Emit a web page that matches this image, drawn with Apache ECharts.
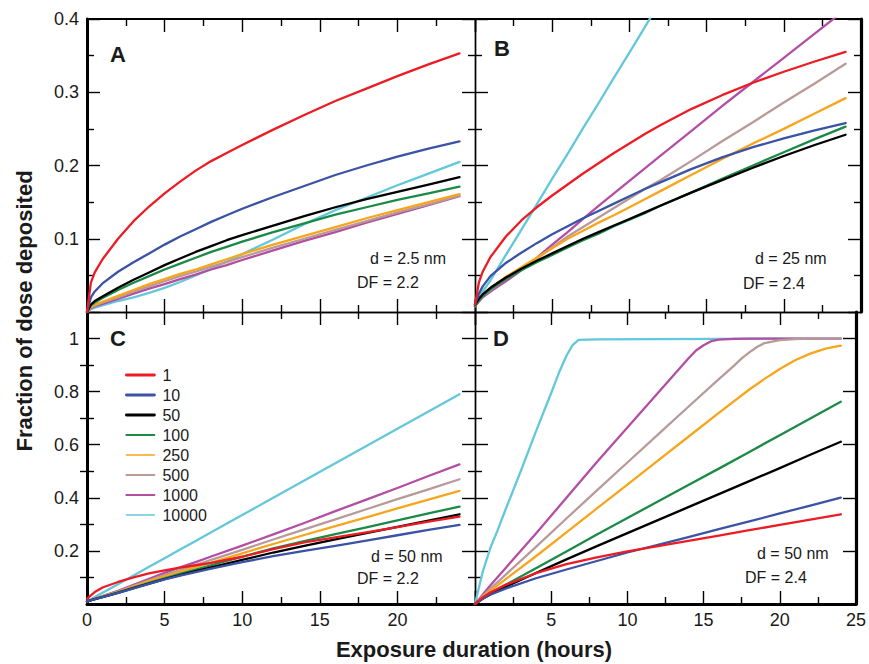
<!DOCTYPE html>
<html>
<head>
<meta charset="utf-8">
<script src="https://cdn.jsdelivr.net/npm/echarts@6/dist/echarts.min.js"></script>
<style>html,body{margin:0;padding:0;background:#fff}#c{width:869px;height:664px}</style>
</head>
<body>
<div id="c"></div>
<script>
// ---------- data ----------
const seriesNames = ['1', '10', '50', '100', '250', '500', '1000', '10000'];
const xTickValues = [0, 5, 10, 15, 20, 25];
const yTicksTop = [0.1, 0.2, 0.3, 0.4];
const yTicksBottom = [0.2, 0.4, 0.6, 0.8, 1];
const yMinorBottom = [0.1, 0.3, 0.5, 0.7, 0.9];

// Panel A  (d = 2.5 nm, DF = 2.2)
const hoursA = [0,0.25,0.5,1,2,3,4,5,6,7,8,9,10,12,14,16,18,20,22,24];
const A_1     = [0,0.04,0.054,0.072,0.1,0.124,0.144,0.162,0.178,0.193,0.206,0.217,0.228,0.249,0.269,0.288,0.305,0.322,0.338,0.353];
const A_10    = [0,0.02,0.028,0.039,0.055,0.068,0.08,0.092,0.103,0.113,0.123,0.132,0.141,0.157,0.172,0.187,0.2,0.212,0.223,0.233];
const A_50    = [0,0.01,0.015,0.021,0.033,0.044,0.054,0.064,0.073,0.082,0.09,0.098,0.105,0.118,0.131,0.143,0.154,0.164,0.174,0.184];
const A_100   = [0,0.009,0.013,0.019,0.03,0.04,0.049,0.058,0.066,0.074,0.082,0.089,0.096,0.109,0.121,0.133,0.143,0.153,0.162,0.171];
const A_250   = [0,0.007,0.01,0.014,0.022,0.03,0.038,0.045,0.052,0.058,0.065,0.072,0.079,0.092,0.104,0.116,0.128,0.139,0.15,0.161];
const A_500   = [0,0.006,0.009,0.013,0.02,0.028,0.035,0.042,0.049,0.055,0.062,0.068,0.075,0.088,0.1,0.112,0.124,0.136,0.147,0.159];
const A_1000  = [0,0.005,0.008,0.011,0.018,0.025,0.032,0.038,0.045,0.051,0.058,0.064,0.071,0.084,0.097,0.109,0.122,0.134,0.146,0.158];
const A_10000 = [0,0.004,0.006,0.009,0.015,0.02,0.026,0.033,0.041,0.05,0.059,0.069,0.079,0.099,0.12,0.139,0.156,0.173,0.189,0.205];

// Panel B  (d = 25 nm, DF = 2.4)
const hoursB = [0,0.25,0.5,1,2,3,4,5,6,7,8,9,10,11,12,14,16,18,20,22,24];
const B_1     = [0.01,0.04,0.055,0.075,0.103,0.125,0.143,0.159,0.174,0.189,0.203,0.217,0.23,0.243,0.255,0.277,0.296,0.313,0.328,0.342,0.355];
const B_10    = [0.01,0.025,0.035,0.049,0.067,0.081,0.094,0.106,0.117,0.128,0.138,0.148,0.158,0.168,0.177,0.195,0.211,0.225,0.237,0.248,0.258];
const B_50    = [0.01,0.018,0.024,0.033,0.047,0.059,0.07,0.08,0.09,0.1,0.109,0.118,0.127,0.136,0.145,0.163,0.18,0.197,0.213,0.228,0.242];
const B_100   = [0.008,0.016,0.022,0.031,0.045,0.057,0.068,0.078,0.088,0.098,0.107,0.117,0.126,0.135,0.145,0.163,0.182,0.2,0.218,0.236,0.253];
const B_250   = [0.008,0.017,0.024,0.033,0.048,0.061,0.074,0.087,0.1,0.111,0.122,0.132,0.143,0.154,0.165,0.187,0.209,0.23,0.25,0.271,0.292];
const B_500   = [0.008,0.016,0.022,0.03,0.045,0.059,0.073,0.088,0.103,0.116,0.129,0.142,0.155,0.168,0.18,0.206,0.233,0.259,0.286,0.312,0.339];
const B_1000  = [0.008,0.014,0.02,0.028,0.042,0.057,0.074,0.092,0.109,0.127,0.145,0.162,0.179,0.196,0.213,0.247,0.281,0.314,0.347,0.38,0.413];
const B_10000 = [0.008,0.02,0.028,0.043,0.078,0.112,0.147,0.182,0.216,0.251,0.285,0.32,0.354,0.389,0.424,null,null,null,null,null,null];

// Panel C  (d = 50 nm, DF = 2.2)
const hoursC = [0,0.5,1,2,3,4,5,6,7,8,10,12,14,16,18,20,22,24];
const C_1     = [0.02,0.045,0.062,0.083,0.1,0.115,0.127,0.137,0.146,0.155,0.178,0.207,0.232,0.251,0.27,0.29,0.31,0.329];
const C_10    = [0.01,0.018,0.026,0.042,0.059,0.076,0.093,0.107,0.12,0.133,0.158,0.18,0.2,0.219,0.239,0.259,0.279,0.298];
const C_50    = [0.01,0.018,0.026,0.042,0.06,0.077,0.094,0.109,0.124,0.138,0.166,0.194,0.219,0.243,0.267,0.291,0.314,0.338];
const C_100   = [0.01,0.018,0.027,0.044,0.062,0.08,0.097,0.114,0.13,0.146,0.178,0.21,0.237,0.263,0.289,0.315,0.341,0.367];
const C_250   = [0.01,0.019,0.028,0.046,0.066,0.086,0.104,0.121,0.139,0.156,0.191,0.226,0.26,0.293,0.326,0.36,0.393,0.426];
const C_500   = [0.01,0.02,0.029,0.047,0.068,0.089,0.109,0.128,0.147,0.166,0.204,0.243,0.281,0.319,0.357,0.395,0.432,0.47];
const C_1000  = [0.01,0.02,0.03,0.05,0.072,0.095,0.117,0.138,0.158,0.179,0.22,0.262,0.305,0.35,0.393,0.437,0.482,0.526];
const C_10000 = [0.01,0.026,0.042,0.074,0.107,0.14,0.172,0.205,0.237,0.27,0.335,0.4,0.465,0.53,0.595,0.66,0.725,0.79];

// Panel D  (d = 50 nm, DF = 2.4)
const hoursD = [0,0.5,1,2,4,6,8,10,12,14,16,18,20,22,24];
const D_1     = [0,0.025,0.043,0.072,0.116,0.15,0.176,0.198,0.218,0.238,0.258,0.278,0.298,0.318,0.338];
const D_10    = [0,0.02,0.035,0.058,0.097,0.13,0.162,0.194,0.223,0.252,0.282,0.311,0.341,0.371,0.401];
const D_50    = [0,0.02,0.036,0.064,0.117,0.168,0.218,0.267,0.316,0.365,0.414,0.463,0.512,0.562,0.611];
const D_100   = [0,0.022,0.04,0.072,0.135,0.198,0.262,0.324,0.386,0.448,0.51,0.573,0.636,0.699,0.762];
const hoursD_250 = [0,0.5,1,2,4,6,8,10,12,14,16,18,19,20,21,22,23,24];
const D_250   = [0,0.026,0.05,0.093,0.18,0.27,0.36,0.45,0.54,0.63,0.72,0.808,0.848,0.885,0.918,0.943,0.962,0.973];
const hoursD_500 = [0,0.5,1,2,4,6,8,10,12,14,16,17,17.5,18,18.5,19,20,21,22,24];
const D_500   = [0,0.03,0.057,0.11,0.215,0.322,0.428,0.533,0.638,0.743,0.847,0.898,0.925,0.948,0.968,0.983,0.994,0.998,1,1];
const hoursD_1000 = [0,0.5,1,2,4,6,8,10,12,14,14.5,15,15.5,16,17,18,24];
const D_1000  = [0,0.035,0.07,0.135,0.266,0.4,0.535,0.665,0.795,0.925,0.955,0.975,0.99,0.996,0.999,1,1];
const hoursD_10000 = [0,0.25,0.5,1,1.5,2,3,4,5,5.5,6,6.4,6.8,8,12,16,20,24];
const D_10000 = [0,0.06,0.12,0.21,0.28,0.355,0.5,0.65,0.795,0.87,0.935,0.975,0.995,0.997,0.998,0.999,1,1];

// ---------- styling ----------
const FONT = '"Liberation Sans", Arial, Helvetica, sans-serif';
const colorOf = {'1':'#ec1c24','10':'#3a53a4','50':'#000000','100':'#1b8a47','250':'#f6a51c','500':'#b89a99','1000':'#b24ea4','10000':'#62c8da'};
const legendWidth = {'1':2.8,'10':2.8,'50':2.8,'100':2,'250':1.4,'500':2,'1000':2,'10000':1.4};

const panels = [
  { grid:{left:87, top:19, width:388, height:293}, ymax:0.4, xs:{'1':hoursA,'10':hoursA,'50':hoursA,'100':hoursA,'250':hoursA,'500':hoursA,'1000':hoursA,'10000':hoursA},
    ys:{'1':A_1,'10':A_10,'50':A_50,'100':A_100,'250':A_250,'500':A_500,'1000':A_1000,'10000':A_10000},
    edges:{left:3,right:1.4,top:2.2,bottom:1.4}, yLabels:true, xLabels:null },
  { grid:{left:475, top:19, width:386, height:293}, ymax:0.4, xs:{'1':hoursB,'10':hoursB,'50':hoursB,'100':hoursB,'250':hoursB,'500':hoursB,'1000':hoursB,'10000':hoursB},
    ys:{'1':B_1,'10':B_10,'50':B_50,'100':B_100,'250':B_250,'500':B_500,'1000':B_1000,'10000':B_10000},
    edges:{left:1.4,right:3.2,top:2.2,bottom:1.4}, yLabels:false, xLabels:null },
  { grid:{left:87, top:312, width:388, height:292}, ymax:1.1, xs:{'1':hoursC,'10':hoursC,'50':hoursC,'100':hoursC,'250':hoursC,'500':hoursC,'1000':hoursC,'10000':hoursC},
    ys:{'1':C_1,'10':C_10,'50':C_50,'100':C_100,'250':C_250,'500':C_500,'1000':C_1000,'10000':C_10000},
    edges:{left:3,right:1.4,top:1.4,bottom:3}, yLabels:true, xLabels:[0,5,10,15,20] },
  { grid:{left:475, top:312, width:386, height:292}, ymax:1.1, xs:{'1':hoursD,'10':hoursD,'50':hoursD,'100':hoursD,'250':hoursD_250,'500':hoursD_500,'1000':hoursD_1000,'10000':hoursD_10000},
    ys:{'1':D_1,'10':D_10,'50':D_50,'100':D_100,'250':D_250,'500':D_500,'1000':D_1000,'10000':D_10000},
    edges:{left:1.4,right:3.2,top:1.4,bottom:3}, yLabels:false, xLabels:[5,10,15,20,25] }
];

const tickLS = {color:'#000', width:1.4};
const labelStyle = {fontFamily:FONT, fontSize:18, color:'#1a1a1a'};

const grid = [], xAxis = [], yAxis = [], series = [];
panels.forEach((p, g) => {
  grid.push(Object.assign({containLabel:false}, p.grid));
  ['bottom','top'].forEach(pos => {
    const showLab = pos === 'bottom' && p.xLabels !== null;
    xAxis.push({
      type:'value', gridIndex:g, position:pos, min:0, max:25, interval:5,
      axisLine:{show:true, onZero:false, lineStyle:{color:'#000', width:p.edges[pos]}},
      axisTick:{show:true, inside:true, length:13, lineStyle:tickLS},
      minorTick:{show:true, splitNumber:2, length:7, lineStyle:tickLS},
      splitLine:{show:false}, minorSplitLine:{show:false},
      axisLabel:showLab ? Object.assign({show:true, margin:7, customValues:p.xLabels}, labelStyle) : {show:false}
    });
  });
  ['left','right'].forEach(pos => {
    const showLab = pos === 'left' && p.yLabels;
    if (p.ymax === 0.4) {
      yAxis.push({
        type:'value', gridIndex:g, position:pos, min:0, max:0.4, interval:0.1,
        axisLine:{show:true, onZero:false, lineStyle:{color:'#000', width:p.edges[pos]}},
        axisTick:{show:true, inside:true, length:13, lineStyle:tickLS},
        minorTick:{show:true, splitNumber:2, length:7, lineStyle:tickLS},
        splitLine:{show:false}, minorSplitLine:{show:false},
        axisLabel:showLab ? Object.assign({show:true, margin:8, customValues:yTicksTop}, labelStyle) : {show:false}
      });
      yAxis.push({type:'value', gridIndex:g, position:pos, min:0, max:0.4, show:false});
    } else {
      yAxis.push({
        type:'value', gridIndex:g, position:pos, min:0, max:1.1, interval:0.1,
        axisLine:{show:true, onZero:false, lineStyle:{color:'#000', width:p.edges[pos]}},
        axisTick:{show:true, inside:true, length:13, lineStyle:tickLS, customValues:[0].concat(yTicksBottom)},
        splitLine:{show:false},
        axisLabel:showLab ? Object.assign({show:true, margin:8, customValues:yTicksBottom}, labelStyle) : {show:false}
      });
      yAxis.push({
        type:'value', gridIndex:g, position:pos, min:0, max:1.1, interval:0.1,
        axisLine:{show:false},
        axisTick:{show:true, inside:true, length:7, lineStyle:tickLS, customValues:yMinorBottom},
        splitLine:{show:false}, axisLabel:{show:false}
      });
    }
  });
  const drawOrder = ['10000','1000','500','250','100','50','10','1'];
  drawOrder.forEach(n => {
    const xs = p.xs[n], ys = p.ys[n];
    const data = xs.map((t, i) => [t, ys[i] === null ? '-' : ys[i]]);
    series.push({
      type:'line', name:n, xAxisIndex:2*g, yAxisIndex:4*g, data:data,
      symbol:'none', showSymbol:false, smooth:false,
      clip:true, connectNulls:false,
      lineStyle:{color:colorOf[n], width:2.3, join:'round', cap:'round'}, itemStyle:{color:colorOf[n]},
      emphasis:{disabled:true}, animation:false
    });
  });
});

const textEl = (txt, x, y, size, bold, align) => ({
  type:'text', x:x, y:y, silent:true,
  style:{text:txt, fill:'#1a1a1a', fontFamily:FONT, fontSize:size, fontWeight:bold ? 'bold' : 'normal',
         align:align || 'left', textAlign:align || 'left', verticalAlign:'middle', textVerticalAlign:'middle'}
});

const graphic = [
  textEl('A', 110, 54, 22, true),
  textEl('B', 494, 48, 22, true),
  textEl('C', 110, 338, 22, true),
  textEl('D', 493, 338, 22, true),
  textEl('d = 2.5 nm', 370, 258, 16, false),
  textEl('DF = 2.2', 357, 282, 16, false),
  textEl('d = 25 nm', 755, 258, 16, false),
  textEl('DF = 2.4', 743, 283, 16, false),
  textEl('d = 50 nm', 371, 556, 16, false),
  textEl('DF = 2.2', 357, 578, 16, false),
  textEl('d = 50 nm', 757, 553, 16, false),
  textEl('DF = 2.4', 745, 577, 16, false),
  textEl('Exposure duration (hours)', 474, 649, 22, true, 'center'),
  Object.assign(textEl('Fraction of dose deposited', 24, 311, 22, true, 'center'), {rotation:Math.PI/2})
];

const chart = echarts.init(document.getElementById('c'), null, {renderer:'svg', width:869, height:664});
chart.setOption({
  animation:false,
  backgroundColor:'#ffffff',
  grid:grid, xAxis:xAxis, yAxis:yAxis, series:series,
  legend:{
    show:true, left:125, top:367, orient:'vertical', selectedMode:false, padding:0,
    itemWidth:28, itemHeight:14, itemGap:4,
    textStyle:{fontFamily:FONT, fontSize:16, color:'#1a1a1a', lineHeight:16, padding:[0,0,0,3]},
    data:seriesNames.map(n => ({name:n, lineStyle:{width:legendWidth[n], color:colorOf[n]}, itemStyle:{opacity:0}}))
  },
  graphic:graphic
});
</script>
</body>
</html>
